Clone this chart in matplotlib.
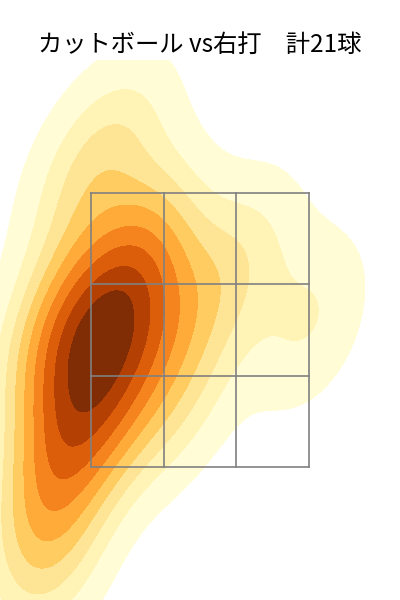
import numpy as np
import matplotlib
matplotlib.use("Agg")
import matplotlib.pyplot as plt
import seaborn as sns

# pitch locations in strike-zone cell units (zone = 0..3 x 0..3, y up)
pitch_x = [0.1, 0.4, -0.2, 0.6, -0.4, 0.7, -0.4, 0.2, 0.8, -0.1, 0.4, -0.5,
           -0.2, 0.4, -0.7, -0.5, 3.0, 2.1, 1.4, 1.2, -0.6]
pitch_y = [1.3, 1.8, 0.8, 2.2, 0.4, 1.5, 1.3, 0.3, 2.5, 1.9, 0.9, -0.1,
           3.1, 3.6, -0.6, -1.1, 1.6, 2.3, 1.7, 0.7, 1.5]
zone_x = [0, 1, 2, 3]
zone_y = [0, 1, 2, 3]
title = "カットボール vs右打　計21球"

plt.rcParams["font.family"] = ["Noto Sans CJK JP", "DejaVu Sans"]

fig = plt.figure(figsize=(4, 6), dpi=100)
ax = fig.add_axes([0, 0, 1, 0.9])
sns.kdeplot(x=pitch_x, y=pitch_y, fill=True, cmap="YlOrBr", ax=ax)

for v in zone_x:
    ax.plot([v, v], [zone_y[0], zone_y[-1]], color="gray", lw=1.2)
for v in zone_y:
    ax.plot([zone_x[0], zone_x[-1]], [v, v], color="gray", lw=1.2)

ax.set_xlim(-1.25, 4.25)
ax.set_ylim(-1.46, 4.46)
ax.axis("off")
fig.text(0.5, 0.925, title, ha="center", va="center", fontsize=17.5)
fig.savefig("out.png")
